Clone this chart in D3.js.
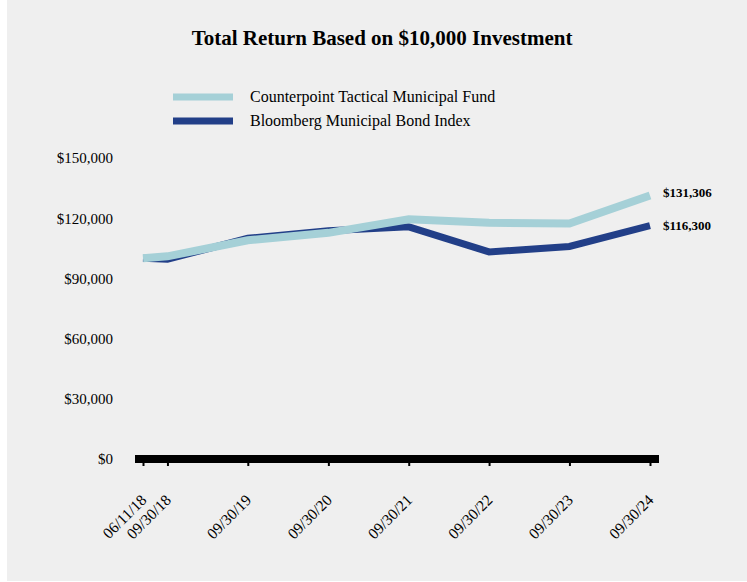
<html lang="en">
<head>
<title>Total Return Based on $10,000 Investment</title>
<script src="https://d3js.org/d3.v7.min.js" charset="utf-8"></script>
<style>
  body { margin: 0; background: #ffffff; }
  text { font-family: "Liberation Serif", "Times New Roman", serif; fill: #000; }
</style>
</head>
<body>
<script>
// data
var dates = ["06/11/18", "09/30/18", "09/30/19", "09/30/20", "09/30/21", "09/30/22", "09/30/23", "09/30/24"]
var fundValues = [100000, 101000, 109000, 112700, 119500, 117700, 117300, 131306]
var indexValues = [100000, 99500, 110000, 113700, 115700, 103200, 105900, 116300]
var yTicks = [0, 30000, 60000, 90000, 120000, 150000]
var seriesNames = ["Counterpoint Tactical Municipal Fund", "Bloomberg Municipal Bond Index"]
var seriesColors = ["#a5d0d7", "#223f88"]

var width = 747
var height = 582

var svg = d3.select("body")
  .append("svg")
  .attr("width", width)
  .attr("height", height)

// gray panel
svg.append("rect")
  .attr("x", 7).attr("y", 0)
  .attr("width", width - 7).attr("height", height - 1)
  .attr("fill", "#efefef")

svg.append("text")
  .attr("x", 382).attr("y", 45)
  .attr("text-anchor", "middle")
  .style("font-size", "21px")
  .style("font-weight", "bold")
  .text("Total Return Based on $10,000 Investment")

var parseDate = d3.timeParse("%m/%d/%y")
var dateObjs = dates.map(parseDate)

var x = d3.scaleTime()
  .domain([dateObjs[0], dateObjs[dateObjs.length - 1]])
  .range([143, 650])

var y = d3.scaleLinear()
  .domain([0, 150000])
  .range([459, 158])

// y axis labels
var yAxis = d3.axisLeft(y)
  .tickValues(yTicks)
  .tickSize(0)
  .tickPadding(0)
  .tickFormat(function(d) { return "$" + d3.format(",")(d) })

var yG = svg.append("g")
  .attr("transform", "translate(113,0)")
  .call(yAxis)
yG.select(".domain").remove()
yG.selectAll("text")
  .style("font-family", "'Liberation Serif', serif")
  .style("font-size", "15px")
  .attr("fill", "#000")

// x axis
var xAxis = d3.axisBottom(x)
  .tickValues(dateObjs)
  .tickSize(7)
  .tickFormat(d3.timeFormat("%m/%d/%y"))

var xG = svg.append("g")
  .attr("transform", "translate(0,459)")
  .call(xAxis)
xG.select(".domain").remove()
xG.selectAll(".tick line").attr("stroke", "#000").attr("stroke-width", 2)
xG.selectAll("text")
  .style("font-family", "'Liberation Serif', serif")
  .style("font-size", "15.5px")
  .attr("fill", "#000")
  .attr("text-anchor", "end")
  .attr("dy", null)
  .attr("y", 0)
  .attr("transform", "translate(4,42) rotate(-45)")

// thick baseline
svg.append("rect")
  .attr("x", 135).attr("y", 455)
  .attr("width", 524).attr("height", 8)
  .attr("fill", "#000")

var line = d3.line()
  .x(function(d, i) { return x(dateObjs[i]) })
  .y(function(d) { return y(d) })

// index drawn first so the fund sits on top
svg.append("path")
  .datum(indexValues)
  .attr("d", line)
  .attr("fill", "none")
  .attr("stroke", seriesColors[1])
  .attr("stroke-width", 7)

svg.append("path")
  .datum(fundValues)
  .attr("d", line)
  .attr("fill", "none")
  .attr("stroke", seriesColors[0])
  .attr("stroke-width", 8)

// end labels
var lastFund = fundValues[fundValues.length - 1]
var lastIndex = indexValues[indexValues.length - 1]
svg.append("text")
  .attr("x", 663).attr("y", y(lastFund) + 1)
  .style("font-size", "13px").style("font-weight", "bold")
  .text("$" + d3.format(",")(lastFund))
svg.append("text")
  .attr("x", 663).attr("y", y(lastIndex) + 4)
  .style("font-size", "13px").style("font-weight", "bold")
  .text("$" + d3.format(",")(lastIndex))

// legend
var legend = svg.selectAll(".legend")
  .data(seriesNames)
  .enter()
  .append("g")
  .attr("class", "legend")
  .attr("transform", function(d, i) { return "translate(173," + (97 + i * 24) + ")" })

legend.append("line")
  .attr("x1", 0).attr("x2", 60)
  .attr("stroke", function(d, i) { return seriesColors[i] })
  .attr("stroke-width", 7)

legend.append("text")
  .attr("x", 77).attr("y", 5)
  .style("font-size", "16px")
  .text(function(d) { return d })
</script>
</body>
</html>
